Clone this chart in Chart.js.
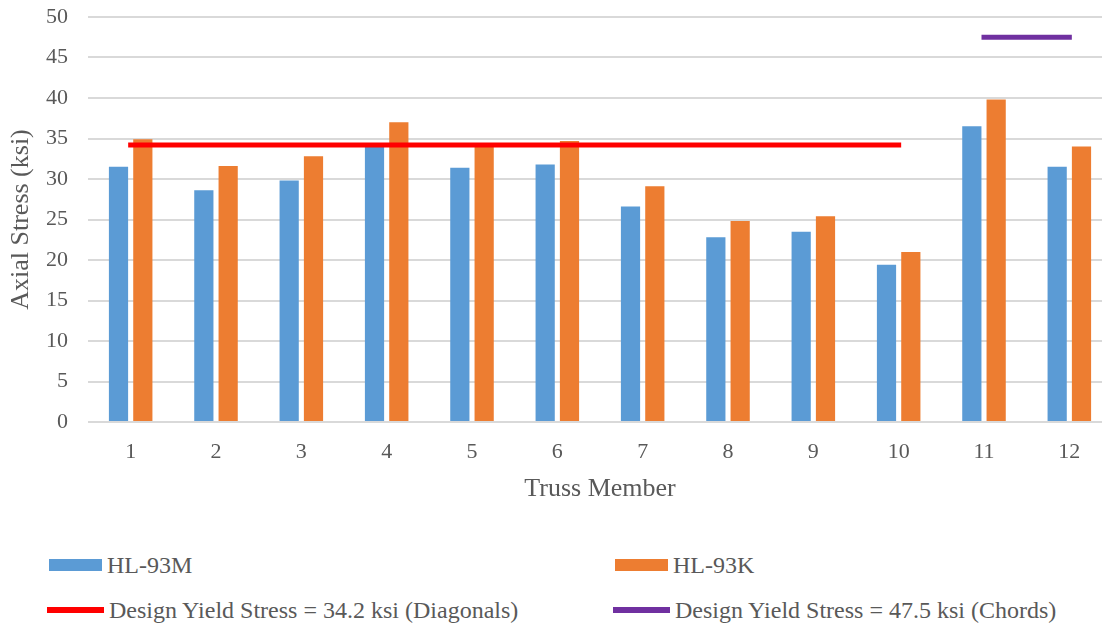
<!DOCTYPE html>
<html>
<head>
<meta charset="utf-8">
<script src="https://cdn.jsdelivr.net/npm/chart.js@4"></script>
<style>
  html, body { margin: 0; padding: 0; background: #ffffff; overflow: hidden; }
  #wrap { position: relative; width: 1102px; height: 626px; overflow: hidden; }
  #chart { position: absolute; left: 0; top: 0; }
  .leg { position: absolute; display: flex; align-items: center;
         font-family: "Times New Roman", "Liberation Serif", serif; font-size: 24px; color: #595959;
         white-space: nowrap; }
  .leg .sw { display: inline-block; margin-right: 5px; }
</style>
</head>
<body>
<div id="wrap">
  <canvas id="chart" width="1112" height="520"></canvas>
</div>
<script>
// Truss members on the x axis
const members = ['1', '2', '3', '4', '5', '6', '7', '8', '9', '10', '11', '12'];

// Axial stress (ksi) per member for each load model
const hl93m = [31.5, 28.6, 29.8, 34.1, 31.4, 31.8, 26.6, 22.8, 23.5, 19.4, 36.5, 31.5];
const hl93k = [34.9, 31.6, 32.8, 37.0, 34.2, 34.7, 29.1, 24.8, 25.4, 21.0, 39.8, 34.0];

// Design yield stresses and the members they apply to
const diagonalYield = 34.2;
const diagonalMembers = ['1', '2', '3', '4', '5', '6', '7', '8', '9', '10'];
const chordYield = 47.5;
const chordMembers = ['11', '12'];

// Y axis ticks
const yTicks = [0, 5, 10, 15, 20, 25, 30, 35, 40, 45, 50];

const BLUE = '#5B9BD5', ORANGE = '#ED7D31', RED = '#FF0000', PURPLE = '#7030A0';
const TEXT = '#595959';
const SERIF = '"Times New Roman", "Liberation Serif", serif';

const levelLine = (value, applies) => members.map(m => applies.includes(m) ? value : null);

const chart = new Chart(document.getElementById('chart'), {
  type: 'bar',
  data: {
    labels: members,
    datasets: [
      { label: 'HL-93M', data: hl93m, backgroundColor: BLUE, order: 1,
        categoryPercentage: 0.57, barPercentage: 0.79 },
      { label: 'HL-93K', data: hl93k, backgroundColor: ORANGE, order: 1,
        categoryPercentage: 0.57, barPercentage: 0.79 },
      { type: 'line', label: 'Design Yield Stress = ' + diagonalYield + ' ksi (Diagonals)',
        data: levelLine(diagonalYield, diagonalMembers), borderColor: RED, backgroundColor: RED,
        borderWidth: 5, pointRadius: 0, borderCapStyle: 'square', spanGaps: false, order: 0 },
      { type: 'line', label: 'Design Yield Stress = ' + chordYield + ' ksi (Chords)',
        data: levelLine(chordYield, chordMembers), borderColor: PURPLE, backgroundColor: PURPLE,
        borderWidth: 5, pointRadius: 0, borderCapStyle: 'square', spanGaps: false, order: 0 }
    ]
  },
  options: {
    responsive: false,
    animation: false,
    layout: { padding: { left: 6, top: 17, right: 0, bottom: 15 } },
    plugins: { legend: { display: false }, tooltip: { enabled: false } },
    scales: {
      x: {
        grid: { display: false },
        border: { display: false },
        ticks: { color: TEXT, font: { family: SERIF, size: 22 }, padding: 9, maxRotation: 0 },
        title: { display: true, text: 'Truss Member', color: TEXT,
                 font: { family: SERIF, size: 26 }, padding: 0 },
        afterFit: s => { s.height = 83; }
      },
      y: {
        min: 0, max: 50,
        afterBuildTicks: s => { s.ticks = yTicks.map(v => ({ value: v })); },
        grid: { color: '#D9D9D9', lineWidth: 2, drawTicks: false },
        border: { display: false },
        ticks: { color: TEXT, font: { family: SERIF, size: 22 }, padding: 20 },
        title: { display: true, text: 'Axial Stress (ksi)', color: TEXT,
                 font: { family: SERIF, size: 26 }, padding: 0 },
        afterFit: s => { s.width = 82; s.paddingTop = 0; s.paddingBottom = 0; }
      }
    }
  }
});

// Two-column legend under the plot, built from the datasets
const wrap = document.getElementById('wrap');
const legendSpots = [
  { left: 49, top: 565, kind: 'box' },
  { left: 615, top: 565, kind: 'box' },
  { left: 47, top: 610, kind: 'line' },
  { left: 613, top: 610, kind: 'line' }
];
chart.data.datasets.forEach((ds, i) => {
  const spot = legendSpots[i];
  const item = document.createElement('div');
  item.className = 'leg';
  item.style.left = spot.left + 'px';
  item.style.top = (spot.top - 15) + 'px';
  item.style.height = '30px';
  const sw = document.createElement('span');
  sw.className = 'sw';
  if (spot.kind === 'box') {
    sw.style.width = '53px'; sw.style.height = '12px'; sw.style.background = ds.backgroundColor;
  } else {
    sw.style.width = '57px'; sw.style.height = '6px'; sw.style.background = ds.borderColor;
  }
  const txt = document.createElement('span');
  txt.textContent = ds.label;
  item.appendChild(sw);
  item.appendChild(txt);
  wrap.appendChild(item);
});
</script>
</body>
</html>
